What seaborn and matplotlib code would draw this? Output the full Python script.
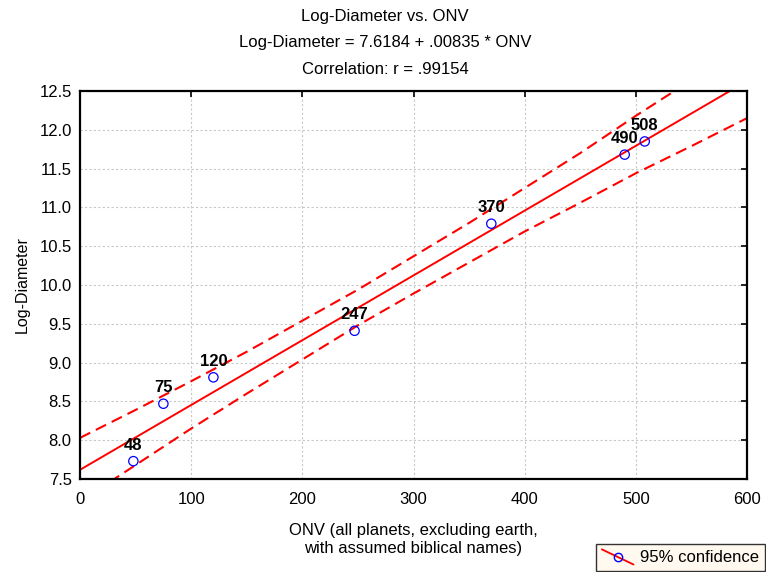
import numpy as np
import pandas as pd
import matplotlib
matplotlib.use("Agg")
import matplotlib.pyplot as plt
import seaborn as sns
from matplotlib.lines import Line2D
from matplotlib.legend_handler import HandlerLine2D

# DATA
onv = [48, 75, 120, 247, 370, 490, 508]
log_diameter = [7.73, 8.47, 8.81, 9.41, 10.79, 11.68, 11.85]
point_labels = ["48", "75", "120", "247", "370", "490", "508"]

# fitted line endpoints (Log-Diameter = 7.6184 + .00835 * ONV)
fit_x = [0, 600]
fit_y = [7.6184, 12.6284]

# 95% confidence band, read at 50-unit steps
band_x = [0, 50, 100, 150, 200, 250, 300, 350, 400, 450, 500, 550, 600]
band_upper = [8.03, 8.39, 8.76, 9.14, 9.54, 9.94, 10.37, 10.80, 11.25, 11.70, 12.18, 12.64, 13.11]
band_lower = [7.21, 7.68, 8.15, 8.60, 9.04, 9.48, 9.89, 10.29, 10.69, 11.06, 11.44, 11.79, 12.15]

x_ticks = [0, 100, 200, 300, 400, 500, 600]
y_ticks = [7.5, 8.0, 8.5, 9.0, 9.5, 10.0, 10.5, 11.0, 11.5, 12.0, 12.5]

title_lines = ["Log-Diameter vs. ONV",
               "Log-Diameter = 7.6184 + .00835 * ONV",
               "Correlation: r = .99154"]

# STYLE
sns.set_style("white")
plt.rcParams["font.family"] = ["Liberation Sans", "DejaVu Sans"]
plt.rcParams["text.color"] = "black"
plt.rcParams["axes.labelcolor"] = "black"
plt.rcParams["xtick.color"] = "black"
plt.rcParams["ytick.color"] = "black"

points_df = pd.DataFrame({"ONV": onv, "LogD": log_diameter})
fit_df = pd.DataFrame({"ONV": fit_x, "LogD": fit_y})
band_df = pd.DataFrame({"ONV": band_x, "upper": band_upper, "lower": band_lower})

fig = plt.figure(figsize=(7.66, 5.72), dpi=100)
ax = fig.add_axes([80 / 766, 93 / 572, 667 / 766, 388 / 572])

# regression line and confidence band
sns.lineplot(data=fit_df, x="ONV", y="LogD", color="red", lw=1.4, ax=ax)
for col in ["upper", "lower"]:
    sns.lineplot(data=band_df, x="ONV", y=col, color="red", lw=1.5,
                 linestyle=(0, (5.5, 3)), ax=ax)

# data points
sns.scatterplot(data=points_df, x="ONV", y="LogD", s=45, facecolors="none",
                edgecolor="blue", linewidth=0.9, marker="o", zorder=5, ax=ax)

for x, y, lab in zip(onv, log_diameter, point_labels):
    ax.annotate(lab, (x, y), xytext=(0, 6), textcoords="offset points",
                ha="center", va="bottom", fontsize=12, fontweight="bold")

ax.set_xlim(0, 600)
ax.set_ylim(7.5, 12.5)
ax.set_xticks(x_ticks)
ax.set_yticks(y_ticks)
ax.set_yticklabels([f"{v:.1f}" for v in y_ticks])
ax.tick_params(direction="in", length=4, width=1.2, labelsize=12,
               top=True, right=True, color="black", labelcolor="black")
ax.tick_params(axis="y", pad=6)
ax.tick_params(axis="x", pad=9)
ax.grid(True, linestyle=(0, (2, 2)), color="#c8c8c8", lw=0.8)
for sp in ax.spines.values():
    sp.set_color("black")
    sp.set_linewidth(1.6)

ax.set_xlabel("ONV (all planets, excluding earth,\nwith assumed biblical names)",
              fontsize=12, labelpad=12, linespacing=1.2)
ax.set_ylabel("Log-Diameter", fontsize=11.5, labelpad=7)

# title lines
for i, t in enumerate(title_lines):
    fig.text(0.503, 1 - (16 + 26.5 * i) / 572, t, ha="center", va="center",
             fontsize=12)


# legend: diagonal line with circle
class DiagHandler(HandlerLine2D):
    def create_artists(self, legend, orig_handle, xdescent, ydescent,
                       width, height, fontsize, trans):
        x0, x1 = -xdescent, -xdescent + width
        y0, y1 = -ydescent + height * 1.1, -ydescent - height * 0.2
        line = Line2D([x0, x1], [y0, y1], color="red", lw=1.3)
        dot = Line2D([(x0 + x1) / 2], [(y0 + y1) / 2], marker="o",
                     markersize=6, markerfacecolor="none",
                     markeredgecolor="blue", lw=0)
        line.set_transform(trans)
        dot.set_transform(trans)
        return [line, dot]


handle = Line2D([], [], color="red", marker="o")
leg = fig.legend([handle], ["95% confidence"], handler_map={handle: DiagHandler()},
                 loc="lower left", bbox_to_anchor=(596 / 766, 1 / 572),
                 fontsize=12, frameon=True, fancybox=False, handlelength=1.9,
                 handletextpad=0.4, borderpad=0.35, borderaxespad=0)
leg.get_frame().set_facecolor("#fff8ec")
leg.get_frame().set_edgecolor("black")
leg.get_frame().set_linewidth(1.0)

fig.savefig("out.png", dpi=100)
